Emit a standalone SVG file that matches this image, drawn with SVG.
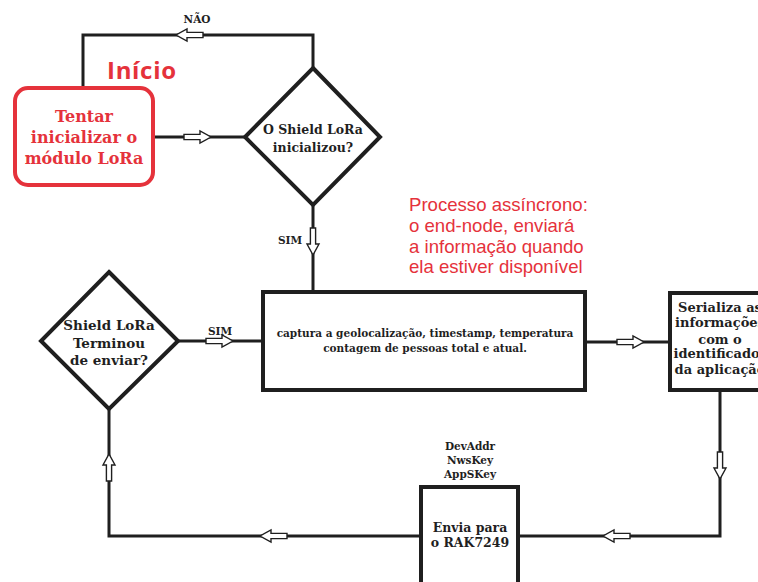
<svg xmlns="http://www.w3.org/2000/svg" width="758" height="582" viewBox="0 0 758 582">
<style>
.ln{fill:none;stroke:#1f1f1f;stroke-width:3;stroke-linejoin:miter}
.bx{fill:#fff;stroke:#1f1f1f;stroke-width:4}
.ar{fill:#fff;stroke:#1f1f1f;stroke-width:1.4;stroke-linejoin:miter}
.t{font-family:"DejaVu Serif","Liberation Serif",serif;font-weight:bold;fill:#1f1f1f;text-anchor:middle}
.lbl{font-family:"DejaVu Serif","Liberation Serif",serif;font-weight:bold;fill:#1f1f1f;text-anchor:middle;font-size:10.5px}
.red{fill:#e5323b}
.note{font-family:"Liberation Sans",Arial,sans-serif;fill:#e5323b;font-size:18.6px}
</style>
<defs>
<path id="arr" d="M0,-2.6 H16 V-6 L27,0 L16,6 V2.6 H0 Z"/>
</defs>
<rect width="758" height="582" fill="#fff"/>
<g id="connectors">
<polyline class="ln" points="83,88 83,35 313,35 313,68"/>
<line class="ln" x1="153" y1="137" x2="245" y2="137"/>
<line class="ln" x1="313" y1="205" x2="313" y2="292"/>
<line class="ln" x1="179" y1="341" x2="263" y2="341"/>
<line class="ln" x1="585" y1="342" x2="670" y2="342"/>
<polyline class="ln" points="720,390 720,536 518,536"/>
<polyline class="ln" points="421,536 109,536 109,409"/>
<use href="#arr" class="ar" transform="translate(203,35) rotate(180)"/>
<use href="#arr" class="ar" transform="translate(184,137)"/>
<use href="#arr" class="ar" transform="translate(313,228) rotate(90)"/>
<use href="#arr" class="ar" transform="translate(206,341)"/>
<use href="#arr" class="ar" transform="translate(617,342)"/>
<use href="#arr" class="ar" transform="translate(720,452) rotate(90)"/>
<use href="#arr" class="ar" transform="translate(630,536) rotate(180)"/>
<use href="#arr" class="ar" transform="translate(287,536) rotate(180)"/>
<use href="#arr" class="ar" transform="translate(109,481) rotate(-90)"/>
<text class="lbl" x="197" y="23">NÃO</text>
<text class="lbl" x="290" y="244">SIM</text>
<text class="lbl" x="220" y="335">SIM</text>
</g>
<g id="inicio">
<text x="107" y="79" font-family="'Open Sans','Liberation Sans',sans-serif" font-weight="bold" font-size="24" fill="#e5323b" textLength="69">Início</text>
<rect x="15" y="88" width="138" height="97" rx="13" fill="#fff" stroke="#e5323b" stroke-width="4"/>
<text class="t red" font-size="16"><tspan x="84" y="122">Tentar</tspan><tspan x="84" y="143">inicializar o</tspan><tspan x="84" y="164">módulo LoRa</tspan></text>
</g>
<g id="decisao1">
<polygon class="bx" points="313,68 380,137 313,205 245,137"/>
<text class="t" font-size="12.5"><tspan x="313" y="134">O Shield LoRa</tspan><tspan x="313" y="152">inicializou?</tspan></text>
</g>
<g id="nota">
<text class="note"><tspan x="409" y="211">Processo assíncrono:</tspan><tspan x="409" y="232">o end-node, enviará</tspan><tspan x="409" y="253">a informação quando</tspan><tspan x="409" y="273">ela estiver disponível</tspan></text>
</g>
<g id="captura">
<rect class="bx" x="263" y="292" width="322" height="98"/>
<text class="t" font-size="10.5"><tspan x="425" y="337">captura a geolocalização, timestamp, temperatura</tspan><tspan x="425" y="352">contagem de pessoas total e atual.</tspan></text>
</g>
<g id="decisao2">
<polygon class="bx" points="109,272 178,341 109,409 41,341"/>
<text class="t" font-size="13.5"><tspan x="109" y="330">Shield LoRa</tspan><tspan x="109" y="348">Terminou</tspan><tspan x="109" y="365">de enviar?</tspan></text>
</g>
<g id="serializa">
<rect class="bx" x="670" y="293" width="100" height="97"/>
<text class="t" font-size="13"><tspan x="720" y="312">Serializa as</tspan><tspan x="720" y="327">informações</tspan><tspan x="720" y="344">com o</tspan><tspan x="720" y="358">identificador</tspan><tspan x="720" y="374">da aplicação</tspan></text>
</g>
<g id="envia">
<rect class="bx" x="421" y="487" width="97" height="110"/>
<text class="t" font-size="12.5"><tspan x="470" y="532">Envia para</tspan><tspan x="470" y="547">o RAK7249</tspan></text>
<text class="lbl"><tspan x="470" y="450">DevAddr</tspan><tspan x="470" y="464">NwsKey</tspan><tspan x="470" y="478">AppSKey</tspan></text>
</g>
</svg>
